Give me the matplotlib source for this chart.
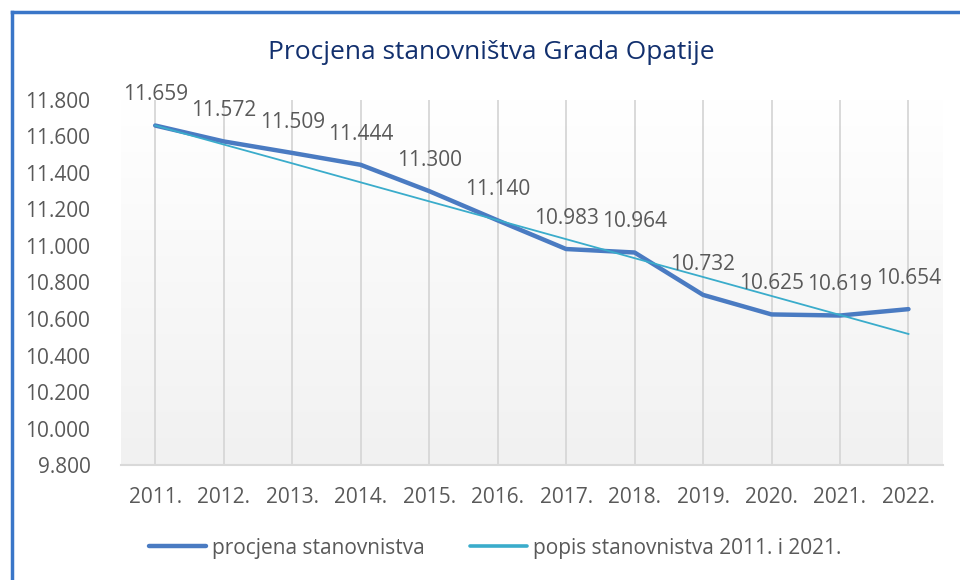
import numpy as np
import matplotlib
matplotlib.use("Agg")
import matplotlib.pyplot as plt
from matplotlib.colors import LinearSegmentedColormap
from matplotlib.lines import Line2D

# podaci
godine = ["2011.", "2012.", "2013.", "2014.", "2015.", "2016.",
          "2017.", "2018.", "2019.", "2020.", "2021.", "2022."]
procjena = [11659, 11572, 11509, 11444, 11300, 11140,
            10983, 10964, 10732, 10625, 10619, 10654]
popis = [11659, 11555, 11452, 11348, 11244, 11141,
         11037, 10933, 10830, 10726, 10622, 10518]

naslov = "Procjena stanovništva Grada Opatije"
naziv_procjena = "procjena stanovnistva"
naziv_popis = "popis stanovnistva 2011. i 2021."


def fmt(v):
    return f"{int(v):,}".replace(",", ".")


plt.rcParams["font.family"] = ["Open Sans", "DejaVu Sans"]
siva = "#595959"
plava = "#4a7bc2"
tirkizna = "#3aaccb"

fig = plt.figure(figsize=(9.6, 5.8), dpi=100)
ax = fig.add_axes([0.126, 0.198, 0.856, 0.63])

x = np.arange(len(godine))

# pozadina s gradijentom (gore bijelo, dolje svijetlo sivo)
cmap = LinearSegmentedColormap.from_list("g", ["#ffffff", "#f1f1f1"])
grad = np.linspace(0, 1, 256).reshape(-1, 1)
ax.imshow(grad, cmap=cmap, aspect="auto", origin="upper",
          extent=[-0.5, 11.5, 9800, 11800], zorder=0)

for xi in x:
    ax.axvline(xi, color="#d9d9d9", lw=1.4, zorder=1)

ax.plot(x, procjena, color=plava, lw=3.2, solid_capstyle="round",
        solid_joinstyle="round", zorder=3)
ax.plot(x, popis, color=tirkizna, lw=1.3, zorder=4)

for xi, v in zip(x, procjena):
    ax.annotate(fmt(v), (xi, v), xytext=(0, 22), textcoords="offset points",
                ha="center", va="center", fontsize=15, color=siva, zorder=5)

ax.set_xlim(-0.5, 11.5)
ax.set_ylim(9800, 11800)
ax.set_yticks(np.arange(9800, 11801, 200))
ax.set_yticklabels([fmt(t) for t in np.arange(9800, 11801, 200)])
ax.set_xticks(x)
ax.set_xticklabels(godine)
ax.tick_params(axis="both", length=0, labelsize=15, labelcolor=siva)
ax.tick_params(axis="x", pad=16)
ax.tick_params(axis="y", pad=22)

for s in ["left", "right", "top"]:
    ax.spines[s].set_visible(False)
ax.spines["bottom"].set_color("#d9d9d9")
ax.spines["bottom"].set_linewidth(1.5)
ax.spines["bottom"].set_zorder(2)

fig.text(0.512, 0.91, naslov, ha="center", va="center", fontsize=19,
         color="#12306e")

handles = [Line2D([], [], color=plava, lw=3.2, solid_capstyle="round"),
           Line2D([], [], color=tirkizna, lw=2.6, solid_capstyle="round")]
fig.legend(handles, [naziv_procjena, naziv_popis], loc="center",
           bbox_to_anchor=(0.516, 0.055), ncol=2, frameon=False, fontsize=15,
           labelcolor=siva, handlelength=2.7, handletextpad=0.3,
           columnspacing=2.2)

# okvir
fig.add_artist(Line2D([0.0125, 0.0125], [0, 0.98], color="#3a76c8", lw=2.5,
                      transform=fig.transFigure))
fig.add_artist(Line2D([0.0125, 1], [0.98, 0.98], color="#3a76c8", lw=2.5,
                      transform=fig.transFigure))

fig.savefig("out.png", dpi=100)
